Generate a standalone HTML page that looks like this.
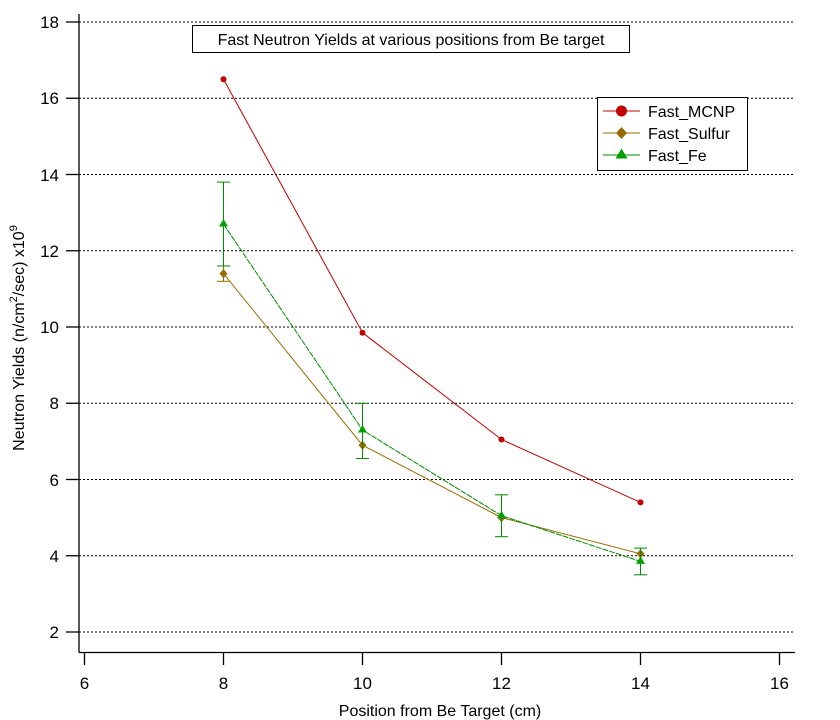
<!DOCTYPE html>
<html><head><style>body{margin:0;background:#fff}svg{display:block}</style></head><body>
<svg width="840" height="720" xmlns="http://www.w3.org/2000/svg" font-family="Liberation Sans, sans-serif">
<g stroke="#000" stroke-width="1" stroke-dasharray="2,2">
<line x1="79" y1="632" x2="795" y2="632"/><line x1="79" y1="555.75" x2="795" y2="555.75"/>
<line x1="79" y1="479.5" x2="795" y2="479.5"/><line x1="79" y1="403.25" x2="795" y2="403.25"/>
<line x1="79" y1="327" x2="795" y2="327"/><line x1="79" y1="250.75" x2="795" y2="250.75"/>
<line x1="79" y1="174.5" x2="795" y2="174.5"/><line x1="79" y1="98.25" x2="795" y2="98.25"/>
<line x1="79" y1="22" x2="795" y2="22"/>
</g>
<g stroke="#000" stroke-width="1.3">
<line x1="79" y1="14" x2="79" y2="652.5"/><line x1="79" y1="652.5" x2="795" y2="652.5"/>
<line x1="66" y1="632" x2="79" y2="632"/><line x1="66" y1="555.75" x2="79" y2="555.75"/>
<line x1="66" y1="479.5" x2="79" y2="479.5"/><line x1="66" y1="403.25" x2="79" y2="403.25"/>
<line x1="66" y1="327" x2="79" y2="327"/><line x1="66" y1="250.75" x2="79" y2="250.75"/>
<line x1="66" y1="174.5" x2="79" y2="174.5"/><line x1="66" y1="98.25" x2="79" y2="98.25"/>
<line x1="66" y1="22" x2="79" y2="22"/>
<line x1="84.5" y1="652" x2="84.5" y2="665"/><line x1="223.5" y1="652" x2="223.5" y2="665"/>
<line x1="362.5" y1="652" x2="362.5" y2="665"/><line x1="501.5" y1="652" x2="501.5" y2="665"/>
<line x1="640.5" y1="652" x2="640.5" y2="665"/><line x1="779.5" y1="652" x2="779.5" y2="665"/>
</g>
<g font-size="17" text-anchor="end">
<text x="59" y="638">2</text><text x="59" y="562">4</text><text x="59" y="486">6</text>
<text x="59" y="409">8</text><text x="59" y="333">10</text><text x="59" y="257">12</text>
<text x="59" y="181">14</text><text x="59" y="104">16</text><text x="59" y="28">18</text>
</g>
<g font-size="17" text-anchor="middle">
<text x="84.5" y="689">6</text><text x="223.5" y="689">8</text><text x="362.5" y="689">10</text>
<text x="501.5" y="689">12</text><text x="640.5" y="689">14</text><text x="779.5" y="689">16</text>
<text x="440" y="716" font-size="16">Position from Be Target (cm)</text>
</g>
<text transform="translate(24,338) rotate(-90)" font-size="16" text-anchor="middle">Neutron Yields (n/cm<tspan font-size="11" dy="-7">2</tspan><tspan dy="7">/sec)  x10</tspan><tspan font-size="11" dy="-7">9</tspan></text>
<rect x="192.5" y="25.5" width="437" height="27" fill="#fff" stroke="#000"/>
<text x="411" y="45" font-size="16" text-anchor="middle">Fast Neutron Yields at various positions from Be target</text>
<!-- MCNP -->
<polyline points="223.5,79.2 362.5,332.7 501.5,439.5 640.5,502.4" fill="none" stroke="#c00000" stroke-width="1"/>
<g fill="#c00000"><circle cx="223.5" cy="79.2" r="3"/><circle cx="362.5" cy="332.7" r="3"/><circle cx="501.5" cy="439.5" r="3"/><circle cx="640.5" cy="502.4" r="3"/></g>
<!-- Sulfur -->
<polyline points="223.5,273.6 362.5,445.2 501.5,517.6 640.5,553.8" fill="none" stroke="#9a6a00" stroke-width="1"/>
<g stroke="#9a6a00"><line x1="223.5" y1="266" x2="223.5" y2="281.3"/><line x1="217" y1="281.3" x2="230" y2="281.3"/><line x1="217" y1="266" x2="230" y2="266"/></g>
<g fill="#9a6a00"><path d="M223.5,269 l4,4.6 -4,4.6 -4,-4.6z"/><path d="M362.5,440.6 l4,4.6 -4,4.6 -4,-4.6z"/><path d="M501.5,513 l4,4.6 -4,4.6 -4,-4.6z"/><path d="M640.5,549.2 l4,4.6 -4,4.6 -4,-4.6z"/></g>
<!-- Fe -->
<polyline points="223.5,224.1 362.5,430 501.5,515.7 640.5,561.4" fill="none" stroke="#008a00" stroke-width="1" stroke-dasharray="6,1"/>
<g stroke="#008a00">
<line x1="223.5" y1="182.1" x2="223.5" y2="266"/><line x1="217" y1="182.1" x2="230" y2="182.1"/><line x1="217" y1="266" x2="230" y2="266"/>
<line x1="362.5" y1="403.3" x2="362.5" y2="458.5"/><line x1="356" y1="403.3" x2="369" y2="403.3"/><line x1="356" y1="458.5" x2="369" y2="458.5"/>
<line x1="501.5" y1="494.8" x2="501.5" y2="536.7"/><line x1="495" y1="494.8" x2="508" y2="494.8"/><line x1="495" y1="536.7" x2="508" y2="536.7"/>
<line x1="640.5" y1="548.1" x2="640.5" y2="574.8"/><line x1="634" y1="548.1" x2="647" y2="548.1"/><line x1="634" y1="574.8" x2="647" y2="574.8"/>
</g>
<g fill="#00a000"><path d="M223.5,219 l4.5,7.5 -9,0z"/><path d="M362.5,425 l4.5,7.5 -9,0z"/><path d="M501.5,510.7 l4.5,7.5 -9,0z"/><path d="M640.5,556.4 l4.5,7.5 -9,0z"/></g>
<!-- legend -->
<rect x="597.5" y="97.5" width="150" height="73" fill="#fff" stroke="#000"/>
<line x1="603" y1="111" x2="640" y2="111" stroke="#c00000"/><circle cx="621.5" cy="111" r="5.5" fill="#c00000"/>
<line x1="603" y1="133" x2="640" y2="133" stroke="#9a6a00"/><path d="M621.5,127 l5.5,6 -5.5,6 -5.5,-6z" fill="#9a6a00"/>
<line x1="603" y1="155" x2="640" y2="155" stroke="#008a00"/><path d="M621.5,148.5 l6,10 -12,0z" fill="#00a000"/>
<g font-size="16"><text x="648" y="117">Fast_MCNP</text><text x="648" y="139">Fast_Sulfur</text><text x="648" y="161">Fast_Fe</text></g>
</svg>
</body></html>
